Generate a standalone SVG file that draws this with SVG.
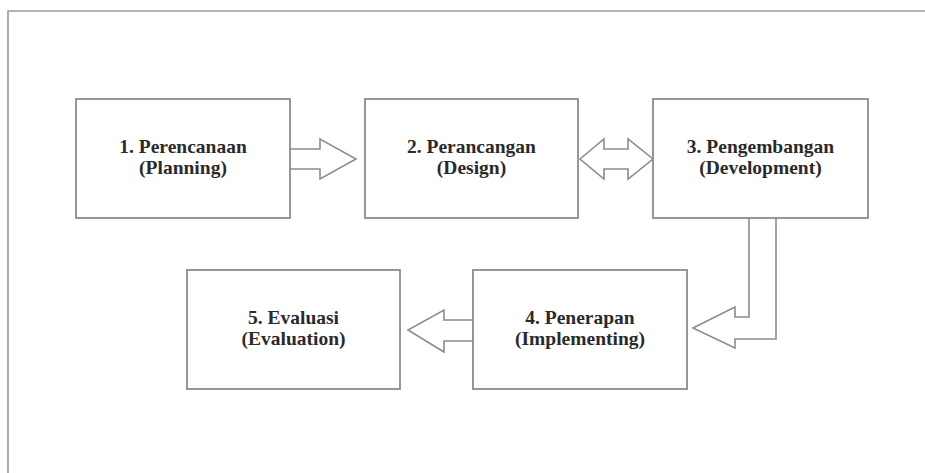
<svg xmlns="http://www.w3.org/2000/svg" width="925" height="473" viewBox="0 0 925 473">
<style>
.box{fill:#fff;stroke:#8c8c8c;stroke-width:1.8}
.arr{fill:#fff;stroke:#8c8c8c;stroke-width:1.6;stroke-linejoin:miter}
.t{font-family:"Liberation Serif","Times New Roman",serif;font-weight:bold;font-size:19.5px;fill:#2a2a2a;text-anchor:middle}
.frame{stroke:#9a9a9a;stroke-width:1.6;fill:none}
</style>
<rect x="0" y="0" width="925" height="473" fill="#fff"/>
<path class="frame" d="M8,473 L8,11 L925,11"/>
<g id="connectors">
<path class="arr" d="M290,149 L320,149 L320,139 L356,159 L320,179 L320,169 L290,169"/>
<path class="arr" d="M580,159 L604,139 L604,149 L628,149 L628,139 L653,159 L628,179 L628,169 L604,169 L604,179 Z"/>
<path class="arr" d="M749,218 L749,317 L735,317 L735,307 L693,328 L735,348 L735,339 L776,339 L776,218"/>
<path class="arr" d="M473,320 L444,320 L444,310 L408,330 L444,352 L444,341 L473,341"/>
</g>
<g id="node1">
<rect class="box" x="76" y="99" width="214" height="119"/>
<text class="t" x="183" y="153">1. Perencanaan</text>
<text class="t" x="183" y="174">(Planning)</text>
</g>
<g id="node2">
<rect class="box" x="365" y="99" width="213" height="119"/>
<text class="t" x="471.5" y="153">2. Perancangan</text>
<text class="t" x="471.5" y="174">(Design)</text>
</g>
<g id="node3">
<rect class="box" x="653" y="99" width="215" height="119"/>
<text class="t" x="760.5" y="153">3. Pengembangan</text>
<text class="t" x="760.5" y="174">(Development)</text>
</g>
<g id="node4">
<rect class="box" x="473" y="270" width="214" height="119"/>
<text class="t" x="580" y="324">4. Penerapan</text>
<text class="t" x="580" y="345">(Implementing)</text>
</g>
<g id="node5">
<rect class="box" x="187" y="270" width="213" height="119"/>
<text class="t" x="293.5" y="324">5. Evaluasi</text>
<text class="t" x="293.5" y="345">(Evaluation)</text>
</g>
</svg>
